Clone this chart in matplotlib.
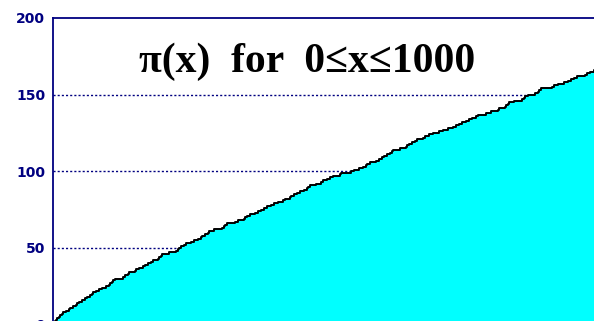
import matplotlib
matplotlib.use("Agg")
import matplotlib.pyplot as plt

primes = [2, 3, 5, 7, 11, 13, 17, 19, 23, 29, 31, 37, 41, 43, 47, 53, 59, 61, 67, 71, 73, 79, 83, 89, 97,
          101, 103, 107, 109, 113, 127, 131, 137, 139, 149, 151, 157, 163, 167, 173, 179, 181, 191, 193, 197, 199,
          211, 223, 227, 229, 233, 239, 241, 251, 257, 263, 269, 271, 277, 281, 283, 293,
          307, 311, 313, 317, 331, 337, 347, 349, 353, 359, 367, 373, 379, 383, 389, 397,
          401, 409, 419, 421, 431, 433, 439, 443, 449, 457, 461, 463, 467, 479, 487, 491, 499,
          503, 509, 521, 523, 541, 547, 557, 563, 569, 571, 577, 587, 593, 599,
          601, 607, 613, 617, 619, 631, 641, 643, 647, 653, 659, 661, 673, 677, 683, 691,
          701, 709, 719, 727, 733, 739, 743, 751, 757, 761, 769, 773, 787, 797,
          809, 811, 821, 823, 827, 829, 839, 853, 857, 859, 863, 877, 881, 883, 887,
          907, 911, 919, 929, 937, 941, 947, 953, 967, 971, 977, 983, 991, 997]
y_ticks = [0, 50, 100, 150, 200]
title = "π(x)  for  0≤x≤1000"

xs = [0] + primes + [1000]
counts = list(range(len(primes) + 1)) + [len(primes)]

W, H = 594, 321
fig = plt.figure(figsize=(W / 100, H / 100), dpi=100)
left_px, right_px = 53, 603
y0_px, y200_px = 324.5, 18
ax = fig.add_axes([left_px / W, (H - y0_px) / H, (right_px - left_px) / W, (y0_px - y200_px) / H])
ax.set_xlim(0, 1000)
ax.set_ylim(0, 200)

navy = "#000080"
for v in y_ticks[1:-1]:
    ax.axhline(v, color=navy, lw=1.0, ls=(0, (1.5, 1.5)), zorder=1)

ax.fill_between(xs, counts, 0, step="post", color="#00FFFF", zorder=2, linewidth=0)
ax.step(xs, counts, where="post", color="black", lw=1.4, zorder=3)

ax.set_yticks(y_ticks)
ax.set_yticklabels([str(v) for v in y_ticks], fontweight="bold", color=navy, fontsize=10,
                   family="DejaVu Sans")
ax.tick_params(axis="y", length=0, pad=5.5)
ax.set_xticks([])
for s in ["right", "bottom"]:
    ax.spines[s].set_visible(False)
for s in ["left", "top"]:
    ax.spines[s].set_color(navy)
    ax.spines[s].set_linewidth(1.3)
    ax.spines[s].set_zorder(4)
ax.set_facecolor("white")

fig.text(307 / W, 1 - 72 / H, title, ha="center", va="baseline", fontsize=30,
         fontweight="bold", family="Liberation Serif", color="black")

fig.savefig("out.png", dpi=100)
